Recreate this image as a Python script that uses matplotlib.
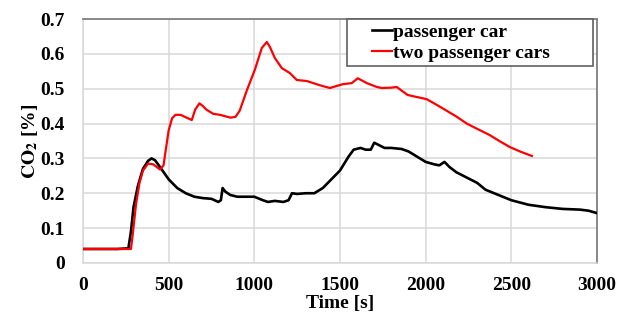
import numpy as np
from matplotlib import pyplot as plt
from matplotlib.legend_handler import HandlerLine2D

# passenger car (black)
t_car = [0, 100, 200, 265, 280, 295, 320, 350, 380, 400, 420, 450, 500, 550, 600, 650,
         700, 750, 790, 805, 815, 830, 860, 900, 950, 1000, 1050, 1080, 1120, 1170,
         1200, 1220, 1250, 1300, 1350, 1400, 1450, 1500, 1550, 1580, 1620, 1650, 1680,
         1700, 1720, 1760, 1800, 1860, 1900, 1950, 2000, 2050, 2080, 2110, 2140, 2180,
         2240, 2300, 2350, 2400, 2450, 2500, 2600, 2700, 2800, 2900, 2950, 3000]
co2_car = [0.04, 0.04, 0.04, 0.042, 0.09, 0.16, 0.22, 0.27, 0.293, 0.30, 0.295, 0.275,
           0.24, 0.215, 0.20, 0.19, 0.186, 0.184, 0.175, 0.18, 0.215, 0.205, 0.195, 0.19,
           0.19, 0.19, 0.18, 0.175, 0.178, 0.175, 0.18, 0.2, 0.198, 0.2, 0.2, 0.215, 0.24,
           0.265, 0.305, 0.325, 0.33, 0.325, 0.325, 0.345, 0.34, 0.33, 0.33, 0.327, 0.32,
           0.305, 0.29, 0.283, 0.28, 0.29, 0.275, 0.26, 0.245, 0.23, 0.21, 0.2, 0.19, 0.18,
           0.167, 0.16, 0.155, 0.153, 0.15, 0.143]

# two passenger cars (red)
t_two = [0, 100, 200, 280, 290, 310, 330, 350, 380, 410, 450, 470, 485, 500, 520, 540,
         570, 600, 635, 655, 680, 700, 720, 760, 800, 860, 890, 915, 957, 1003, 1044,
         1073, 1091, 1120, 1161, 1207, 1248, 1307, 1382, 1441, 1517, 1569, 1604, 1657,
         1715, 1744, 1800, 1831, 1895, 1950, 2006, 2060, 2112, 2180, 2240, 2300, 2374,
         2430, 2490, 2550, 2620]
co2_two = [0.04, 0.04, 0.04, 0.04, 0.08, 0.17, 0.23, 0.265, 0.285, 0.283, 0.268, 0.28,
           0.33, 0.38, 0.415, 0.425, 0.425, 0.418, 0.41, 0.44, 0.458, 0.45, 0.44, 0.428,
           0.425, 0.417, 0.419, 0.437, 0.496, 0.554, 0.617, 0.634, 0.62, 0.588, 0.559,
           0.545, 0.525, 0.522, 0.51, 0.502, 0.513, 0.516, 0.53, 0.516, 0.505, 0.502,
           0.503, 0.505, 0.482, 0.476, 0.47, 0.455, 0.44, 0.42, 0.40, 0.385, 0.367, 0.35,
           0.333, 0.32, 0.307]

x_ticks = [0, 500, 1000, 1500, 2000, 2500, 3000]
y_ticks = [0, 0.1, 0.2, 0.3, 0.4, 0.5, 0.6, 0.7]
y_tick_labels = ["0", "0.1", "0.2", "0.3", "0.4", "0.5", "0.6", "0.7"]

plt.rcParams['font.family'] = ['Liberation Serif', 'DejaVu Serif']
plt.rcParams['font.weight'] = 'bold'
plt.rcParams['mathtext.fontset'] = 'stix'

FS = 14


class RightLine(HandlerLine2D):
    # short legend line drawn at the right end of the handle box
    def get_xdata(self, legend, xdescent, ydescent, width, height, fontsize):
        x1 = -xdescent + width
        x0 = x1 - 0.48 * width
        return [x0, x1], [0.5 * (x0 + x1)]


fig = plt.figure(figsize=(6.31, 3.25), dpi=100)
ax = fig.add_axes([0.1315, 0.191, 0.8145, 0.7505])

ax.plot(t_car, co2_car, color='black', lw=1.9, label='passenger car', zorder=3)
ax.plot(t_two, co2_two, color='#ff0000', lw=1.6, label='two passenger cars', zorder=4)

ax.set_xlim(0, 3000)
ax.set_ylim(0, 0.7)
ax.set_xticks(x_ticks)
ax.set_yticks(y_ticks)
ax.set_yticklabels(y_tick_labels)
ax.tick_params(length=0, labelsize=FS)
ax.tick_params(axis='x', pad=10)
ax.tick_params(axis='y', pad=13)
ax.grid(True, color='#d9d9d9', lw=1.1)
ax.set_axisbelow(True)

for s in ['left', 'bottom']:
    ax.spines[s].set_color('#d9d9d9')
    ax.spines[s].set_linewidth(1.1)
for s in ['top', 'right']:
    ax.spines[s].set_color('#808080')
    ax.spines[s].set_linewidth(1.3)

ax.set_xlabel('Time [s]', fontsize=FS, fontweight='bold', labelpad=1)
ax.set_ylabel('$\\mathbf{CO_2}$ [%]', fontsize=FS, fontweight='bold', labelpad=0)

leg = ax.legend(loc='upper left', bbox_to_anchor=(0.5136, 0.0, 0.4786, 1.0),
                mode='expand', fontsize=FS,
                handlelength=2.1, handletextpad=0.05, borderpad=0.2,
                labelspacing=0.2, fancybox=False, framealpha=1,
                borderaxespad=0, handler_map={plt.Line2D: RightLine()})
leg.get_frame().set_edgecolor('#606060')
leg.get_frame().set_linewidth(1.2)

fig.savefig('out.png', dpi=100)
